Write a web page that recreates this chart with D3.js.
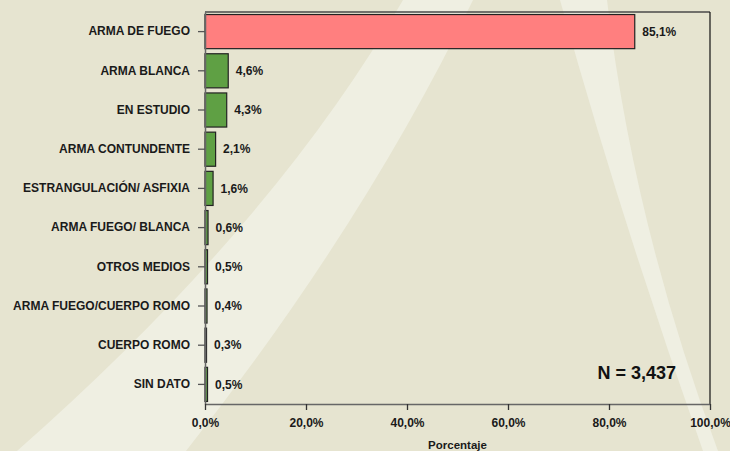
<!DOCTYPE html>
<html>
<head>
<meta charset="utf-8">
<script src="https://cdn.jsdelivr.net/npm/d3@7"></script>
<style>
  html, body { margin: 0; padding: 0; background: #e6e4d0; }
  svg { display: block; font-family: Arial, "Liberation Sans", sans-serif; font-weight: bold; }
</style>
</head>
<body>
<svg id="chart" width="730" height="451"></svg>
<script>
// Medio utilizado: porcentaje de casos por categoría
const categories = [
  "ARMA DE FUEGO",
  "ARMA BLANCA",
  "EN ESTUDIO",
  "ARMA CONTUNDENTE",
  "ESTRANGULACIÓN/ ASFIXIA",
  "ARMA FUEGO/ BLANCA",
  "OTROS MEDIOS",
  "ARMA FUEGO/CUERPO ROMO",
  "CUERPO ROMO",
  "SIN DATO"
];
const percentages = [85.1, 4.6, 4.3, 2.1, 1.6, 0.6, 0.5, 0.4, 0.3, 0.5];
const xTickValues = [0, 20, 40, 60, 80, 100];
const xAxisTitle = "Porcentaje";
const totalLabel = "N = 3,437";

const W = 730, H = 451;
const plot = { left: 205, right: 710, top: 12, bottom: 404 };
const FONT = "Arial, 'Liberation Sans', sans-serif";
const FS = 12;

const svg = d3.select("#chart");

// Decorative light swooshes in the background (quadratic curved bands)
function band(p) {
  const path = d3.path();
  path.moveTo(p.a0[0], p.a0[1]);
  path.quadraticCurveTo(p.ac[0], p.ac[1], p.a1[0], p.a1[1]);
  path.lineTo(p.a1[0] + p.ext[0], p.a1[1] + p.ext[1]);
  path.lineTo(p.b1[0] + p.ext[0], p.b1[1] + p.ext[1]);
  path.lineTo(p.b1[0], p.b1[1]);
  path.quadraticCurveTo(p.bc[0], p.bc[1], p.b0[0], p.b0[1]);
  path.closePath();
  return path.toString();
}
const swooshes = [
  { a0: [403, 0], ac: [274, 224.5], a1: [17, 451],
    b0: [473, 0], bc: [364.5, 224.5], b1: [186, 451], ext: [-20, 30] },
  { a0: [560, 0], ac: [622.5, 224.5], a1: [703, 451],
    b0: [607, 0], bc: [633.5, 224.5], b1: [718, 451], ext: [5, 30] }
];
svg.append("rect").attr("width", W).attr("height", H).attr("fill", "#e6e4d0");
svg.selectAll("path.swoosh").data(swooshes).join("path")
  .attr("class", "swoosh")
  .attr("d", band)
  .attr("fill", "#efefe2");

// Scales
const x = d3.scaleLinear().domain([0, 100]).range([plot.left, plot.right]);
const y = d3.scaleBand().domain(categories)
  .range([plot.top, plot.bottom])
  .paddingInner(0.13).paddingOuter(0.065);

const fmt = v => d3.format(".1f")(v).replace(".", ",") + "%";

// Frame (top and right edges)
svg.append("line")
  .attr("x1", plot.left).attr("x2", plot.right)
  .attr("y1", plot.top).attr("y2", plot.top)
  .attr("stroke", "#4a4a4a").attr("stroke-width", 1.5);
svg.append("line")
  .attr("x1", plot.right).attr("x2", plot.right)
  .attr("y1", plot.top).attr("y2", plot.bottom)
  .attr("stroke", "#111").attr("stroke-width", 1.2);

// Bars
svg.append("g").selectAll("rect").data(categories).join("rect")
  .attr("x", x(0))
  .attr("y", d => y(d))
  .attr("width", (d, i) => x(percentages[i]) - x(0))
  .attr("height", y.bandwidth())
  .attr("fill", (d, i) => i === 0 ? "#ff7f7f" : "#5fa044")
  .attr("stroke", "#222")
  .attr("stroke-width", 1.2);

// Value labels
svg.append("g").selectAll("text").data(categories).join("text")
  .attr("x", (d, i) => x(percentages[i]) + 7.5)
  .attr("y", d => y(d) + y.bandwidth() / 2)
  .attr("dy", "0.35em")
  .attr("font-size", FS)
  .attr("fill", "#1a1a1a")
  .text((d, i) => fmt(percentages[i]));

// Y axis
const yAxis = svg.append("g")
  .attr("transform", `translate(${plot.left},0)`)
  .call(d3.axisLeft(y).tickSize(7).tickSizeOuter(0).tickPadding(8));
yAxis.select(".domain").attr("stroke", "#666").attr("stroke-width", 1.5);
yAxis.selectAll(".tick line").attr("stroke", "#555").attr("stroke-width", 1.3);
yAxis.selectAll(".tick text")
  .attr("font-size", FS).attr("font-weight", "bold")
  .attr("font-family", FONT)
  .attr("fill", "#1a1a1a");

// X axis
const xAxis = svg.append("g")
  .attr("transform", `translate(0,${plot.bottom})`)
  .call(d3.axisBottom(x).tickValues(xTickValues).tickSize(6).tickSizeOuter(0)
    .tickPadding(8).tickFormat(fmt));
xAxis.select(".domain").attr("stroke", "#666").attr("stroke-width", 1.5);
xAxis.selectAll(".tick line").attr("stroke", "#333").attr("stroke-width", 1.3);
xAxis.selectAll(".tick text")
  .attr("font-size", FS).attr("font-weight", "bold")
  .attr("font-family", FONT)
  .attr("fill", "#1a1a1a");

// Axis title
svg.append("text")
  .attr("x", (plot.left + plot.right) / 2)
  .attr("y", 449)
  .attr("text-anchor", "middle")
  .attr("font-size", 11.5)
  .attr("fill", "#1a1a1a")
  .text(xAxisTitle);

// Sample size
svg.append("text")
  .attr("x", 676)
  .attr("y", 379)
  .attr("text-anchor", "end")
  .attr("font-size", 18)
  .attr("fill", "#111")
  .text(totalLabel);
</script>
</body>
</html>
